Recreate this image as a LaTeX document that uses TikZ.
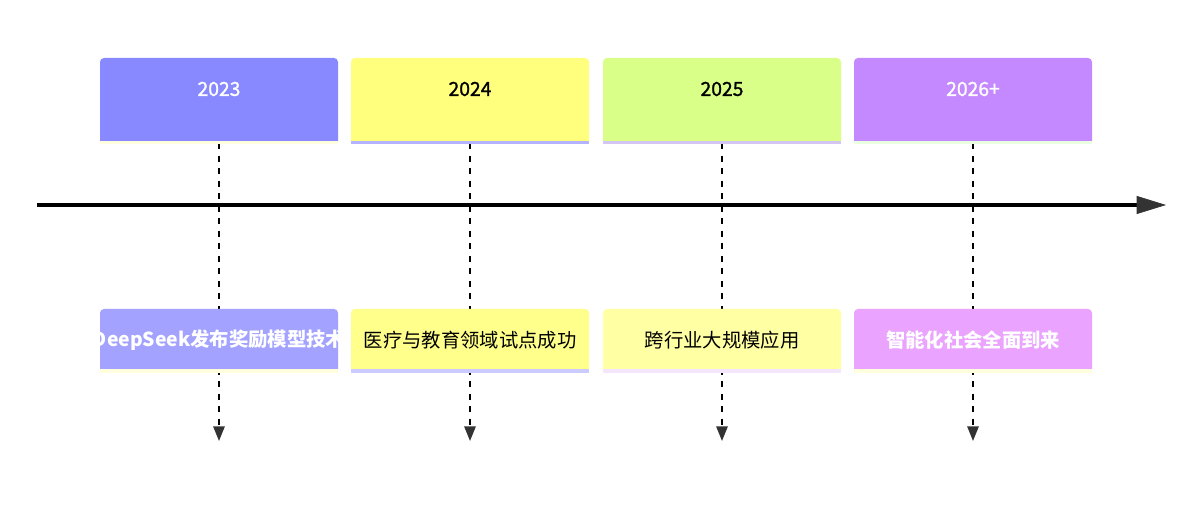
\documentclass[tikz,border=0pt]{standalone}
\usepackage{fontspec}
\setmainfont{Noto Sans CJK SC}
\newfontfamily\yearfont{Noto Sans CJK SC}[FakeBold=1.2]
\usetikzlibrary{arrows.meta}
\definecolor{yA}{HTML}{8888FF}\definecolor{sA}{HTML}{FFFFDE}
\definecolor{yB}{HTML}{FFFF7D}\definecolor{sB}{HTML}{B3B3FF}
\definecolor{yC}{HTML}{D9FF88}\definecolor{sC}{HTML}{D3C6F2}
\definecolor{yD}{HTML}{C488FF}\definecolor{sD}{HTML}{E8FFE0}
\definecolor{eA}{HTML}{A3A3FF}\definecolor{tA}{HTML}{FFFFDE}
\definecolor{eB}{HTML}{FFFF8C}\definecolor{tB}{HTML}{CBCBFF}
\definecolor{eC}{HTML}{FFFFA3}\definecolor{tC}{HTML}{F4E6FF}
\definecolor{eD}{HTML}{EAA3FF}\definecolor{tD}{HTML}{FFFFDE}
\definecolor{dk}{HTML}{333333}
\tikzset{
  yeartext/.style={inner sep=0pt, font=\yearfont\fontsize{14.5}{17}\selectfont},
  eventtext/.style={inner sep=0pt, font=\fontsize{14.5}{17}\selectfont},
  link/.style={draw=black, line width=1.5pt, dash pattern=on 4.5pt off 4.9pt, -{Triangle[length=11pt,width=8.5pt,fill=dk,color=dk]}},
}
\begin{document}
\begin{tikzpicture}[x=0.75pt,y=-0.75pt]
\useasboundingbox (0,0) rectangle (1182,505);
\fill[white] (0,0) rectangle (1182,505);
% connector coordinates
\coordinate (aA) at (219,143);\coordinate (aB) at (470,143);\coordinate (aC) at (722,143);\coordinate (aD) at (973,143);
\coordinate (bA) at (219,441);\coordinate (bB) at (470,441);\coordinate (bC) at (722,441);\coordinate (bD) at (973,441);
\draw[link] (aA) -- (bA);
\draw[link] (aB) -- (bB);
\draw[link] (aC) -- (bC);
\draw[link] (aD) -- (bD);
% year boxes and event boxes
\foreach \c/\f/\s/\g/\t in {219/yA/sA/eA/tA, 470/yB/sB/eB/tB, 722/yC/sC/eC/tC, 973/yD/sD/eD/tD}{
  \fill[\f, rounded corners=3pt] (\c-119,141) -- (\c-119,58) -- (\c+119,58) -- (\c+119,141);
  \fill[\f] (\c-119,132) rectangle (\c+119,141);
  \fill[\s] (\c-119,141) rectangle (\c+119,144);
  \fill[\g, rounded corners=3pt] (\c-119,369) -- (\c-119,309) -- (\c+119,309) -- (\c+119,369);
  \fill[\g] (\c-119,360) rectangle (\c+119,369);
  \fill[\t] (\c-119,369) rectangle (\c+119,373);
}
\node[yeartext, text=white] (y1) at (219,89) {2023};
\node[yeartext, text=black] (y2) at (470,89) {2024};
\node[yeartext, text=black] (y3) at (722,89) {2025};
\node[yeartext, text=white] (y4) at (973,89) {2026+};
\node[eventtext, font=\bfseries\fontsize{14.5}{17}\selectfont, text=white] (e1) at (219,340) {DeepSeek发布奖励模型技术};
\node[eventtext, text=black] (e2) at (470,340) {医疗与教育领域试点成功};
\node[eventtext, text=black] (e3) at (722,340) {跨行业大规模应用};
\node[eventtext, font=\bfseries\fontsize{14.5}{17}\selectfont, text=white] (e4) at (973,340) {智能化社会全面到来};
% main axis
\coordinate (axs) at (37,205);
\coordinate (axe) at (1166,205);
\draw[line width=3pt, -{Triangle[length=22pt,width=13.5pt,fill=dk,color=dk,line width=0.5pt]}] (axs) -- (axe);
\end{tikzpicture}
\end{document}
